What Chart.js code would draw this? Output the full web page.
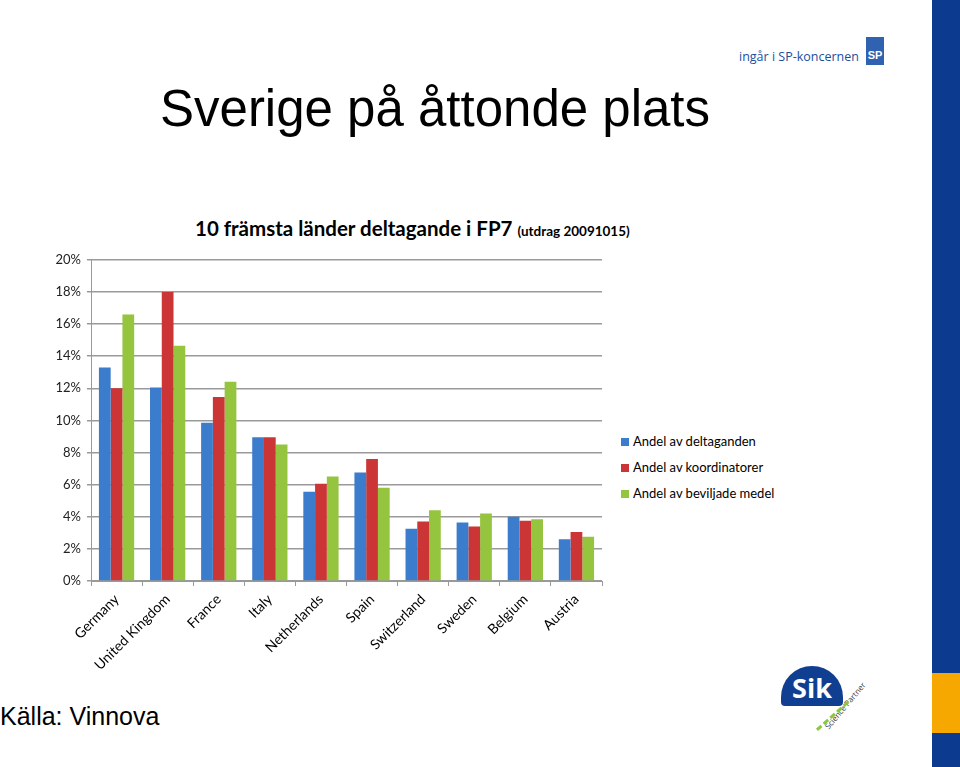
<!DOCTYPE html>
<html>
<head>
<meta charset="utf-8">
<script src="https://cdn.jsdelivr.net/npm/chart.js@4.4.1/dist/chart.umd.min.js"></script>
<style>
  body { margin: 0; width: 960px; height: 767px; background: #fff; position: relative; overflow: hidden; font-family: "Liberation Sans", Arial, sans-serif; }
  #title { position: absolute; left: 160px; top: 79px; font-size: 51px; color: #000; line-height: 60px; white-space: nowrap; }
  #source { position: absolute; left: 0; top: 702px; font-size: 25px; color: #000; white-space: nowrap; }
  #ctitle { position: absolute; left: 195px; top: 216px; font-family: Lato, sans-serif; font-weight: bold; font-size: 20.5px; white-space: nowrap; }
  #ctitle span { font-size: 13.5px; }
  #wrap { position: absolute; left: 40px; top: 246px; width: 570px; height: 434px; }
  #legend { position: absolute; left: 621px; top: 433px; font-family: Lato, sans-serif; font-size: 13px; color: #000; }
  #legend div { height: 26px; line-height: 17px; white-space: nowrap; }
  #legend i { display: inline-block; width: 8px; height: 8px; margin-right: 4px; vertical-align: 0px; }
  #bar { position: absolute; left: 932px; top: 0; width: 28px; height: 767px; background: #0b3a8f; }
  #bar2 { position: absolute; left: 932px; top: 673px; width: 28px; height: 60px; background: #f7a800; }
  #sp { position: absolute; left: 739px; top: 48px; font-family: "Open Sans", sans-serif; font-size: 12.5px; color: #1d4e9e; white-space: nowrap; }
  #spbox { position: absolute; left: 866px; top: 37px; width: 18px; height: 28px; background: #2f62b0; color: #fff; font-size: 11px; font-weight: bold; text-align: center; line-height: 36px; }
  #sik { position: absolute; left: 781px; top: 666px; width: 62px; height: 40px; background: #103f91; border-radius: 31px 31px 4px 4px; color: #fff; font-family: "Open Sans", sans-serif; font-weight: bold; font-size: 27px; text-align: center; line-height: 44px; }
  #sik2 { position: absolute; left: 826px; top: 722px; font-family: "Open Sans", sans-serif; font-size: 8px; color: #444; transform: rotate(-50deg); transform-origin: left center; white-space: nowrap; }
  #sik3 { position: absolute; left: 818px; top: 728px; width: 42px; height: 3px; border-top: 3px dashed #8dc63f; transform: rotate(-42deg); transform-origin: left center; }
</style>
</head>
<body>
<div id="title">Sverige på åttonde plats</div>
<div id="ctitle">10 främsta länder deltagande i FP7 <span>(utdrag 20091015)</span></div>
<div id="wrap"><canvas id="c"></canvas></div>
<div id="legend"></div>
<div id="source">Källa: Vinnova</div>
<div id="sp">ingår i SP-koncernen</div>
<div id="spbox">SP</div>
<div id="sik">Sik</div>
<div id="sik2">Science Partner</div>
<div id="sik3"></div>
<div id="bar"></div>
<div id="bar2"></div>
<script>
const countries = ['Germany', 'United Kingdom', 'France', 'Italy', 'Netherlands', 'Spain', 'Switzerland', 'Sweden', 'Belgium', 'Austria']
const seriesNames = ['Andel av deltaganden', 'Andel av koordinatorer', 'Andel av beviljade medel']
const deltaganden = [13.3, 12.05, 9.85, 8.95, 5.55, 6.75, 3.25, 3.65, 4.0, 2.6]
const koordinatorer = [12.0, 18.0, 11.45, 8.95, 6.05, 7.6, 3.7, 3.4, 3.75, 3.05]
const medel = [16.6, 14.65, 12.4, 8.5, 6.5, 5.8, 4.4, 4.2, 3.85, 2.75]
const yTicks = ['0%', '2%', '4%', '6%', '8%', '10%', '12%', '14%', '16%', '18%', '20%']
const colors = ['#3b7ccc', '#cc3535', '#95c43e']

// horizontal shading so the bars look a bit like the 3d office bars
function barFill(ctx, col) {
    const el = ctx.element
    if (!el || el.x === undefined) return col
    const w = el.width || 10
    const g = ctx.chart.ctx.createLinearGradient(el.x - w/2, 0, el.x + w/2, 0)
    g.addColorStop(0, col)
    g.addColorStop(0.45, col)
    g.addColorStop(1, shade(col, -0.25))
    return g
}
function shade(hex, f) {
    let n = parseInt(hex.slice(1), 16)
    let r = n >> 16, gg = (n >> 8) & 255, b = n & 255
    r = Math.round(r*(1+f)); gg = Math.round(gg*(1+f)); b = Math.round(b*(1+f))
    return 'rgb(' + r + ',' + gg + ',' + b + ')'
}

const values = [deltaganden, koordinatorer, medel]
const datasets = values.map((v, i) => ({
    label: seriesNames[i],
    data: v,
    backgroundColor: ctx => barFill(ctx, colors[i]),
    borderWidth: 0,
    barPercentage: 1.0,
    categoryPercentage: 0.69
}))

document.getElementById('legend').innerHTML = seriesNames.map((n, i) =>
    '<div><i style="background:' + colors[i] + '"></i>' + n + '</div>').join('')

new Chart(document.getElementById('c'), {
    type: 'bar',
    data: { labels: countries, datasets: datasets },
    options: {
        responsive: true,
        maintainAspectRatio: false,
        animation: false,
        layout: { padding: { top: 6, right: 8, left: 0, bottom: 0 } },
        plugins: { legend: { display: false }, tooltip: { enabled: false } },
        scales: {
            x: {
                grid: { drawOnChartArea: false, drawTicks: true, tickLength: 5, color: '#999', offset: true },
                border: { color: '#999', width: 1 },
                ticks: { maxRotation: 45, minRotation: 45, font: { family: 'Lato', size: 14 }, color: '#000', padding: 5 },
                afterFit: s => { s.height = 99 }
            },
            y: {
                min: 0, max: 20,
                ticks: { stepSize: 2, callback: (v, i) => yTicks[i], font: { family: 'Lato', size: 13 }, color: '#222', padding: 6 },
                grid: { color: '#9a9a9a', lineWidth: 1.5, tickLength: 4 },
                border: { color: '#999', width: 1 },
                afterFit: s => { s.width = 51 }
            }
        }
    }
})
</script>
</body>
</html>
